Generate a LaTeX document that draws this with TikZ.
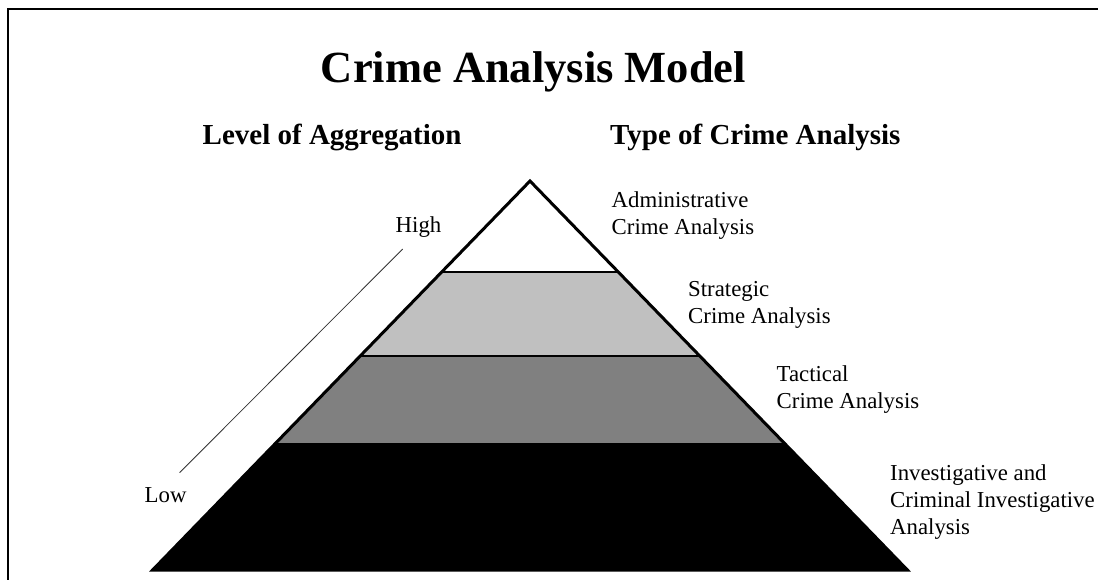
\documentclass[tikz,border=0pt]{standalone}
\usepackage{fontspec}
\setmainfont{Liberation Serif}
\usetikzlibrary{calc}
\definecolor{bandlight}{RGB}{192,192,192}
\definecolor{bandmid}{RGB}{128,128,128}
\tikzset{
  lbl/.style={anchor=base west, inner sep=0pt, align=left, font=\fontsize{22.8}{27}\selectfont},
  heading/.style={anchor=base west, inner sep=0pt, font=\fontsize{29}{34}\selectfont\bfseries},
  bandline/.style={line width=2pt},
}
\begin{document}
\begin{tikzpicture}[x=1pt,y=-1pt]
\useasboundingbox (0,0) rectangle (1098,580);
\fill[white] (-2,-2) rectangle (1100,582);
\clip (0,0) rectangle (1098,580);
% frame
\draw[line width=2pt] (8,582) -- (8,9.5) -- (1100,9.5);
% pyramid geometry
\coordinate (A) at (530,181);
\coordinate (BL) at (152.6,570);
\coordinate (BR) at (907.4,570);
\coordinate (L1) at ($(A)!0.234!(BL)$);
\coordinate (R1) at ($(A)!0.234!(BR)$);
\coordinate (L2) at ($(A)!0.449!(BL)$);
\coordinate (R2) at ($(A)!0.449!(BR)$);
\coordinate (L3) at ($(A)!0.676!(BL)$);
\coordinate (R3) at ($(A)!0.676!(BR)$);
\fill[white] (A) -- (L1) -- (R1) -- cycle;
\fill[bandlight] (L1) -- (R1) -- (R2) -- (L2) -- cycle;
\fill[bandmid] (L2) -- (R2) -- (R3) -- (L3) -- cycle;
\fill[black] (L3) -- (R3) -- (BR) -- (BL) -- cycle;
\draw[bandline] (L1) -- (R1);
\draw[bandline] (L2) -- (R2);
\draw[bandline] (L3) -- (R3);
\draw[line width=3pt, line join=miter] (A) -- (BL) -- (BR) -- cycle;
% aggregation scale line
\coordinate (HiEnd) at (402.7,249);
\coordinate (LoEnd) at (179.6,472.7);
\draw[line width=0.8pt, black!80] (HiEnd) -- (LoEnd);
% texts
\node[anchor=base, inner sep=0pt, font=\fontsize{44.5}{50}\selectfont\bfseries] (title) at (533.5,83) {Crime Analysis Model};
\node[heading] (lvl) at (202.5,145) {Level of Aggregation};
\node[heading] (type) at (610,145) {Type of Crime Analysis};
\node[lbl] (high) at (395.5,233) {High};
\node[lbl] (low) at (144.5,502) {Low};
\node[lbl] (adm) at (611.5,235) {Administrative\\Crime Analysis};
\node[lbl] (str) at (688,323) {Strategic\\Crime Analysis};
\node[lbl] (tac) at (776.5,408) {Tactical\\Crime Analysis};
\node[lbl] (inv) at (890,534) {Investigative and\\Criminal Investigative\\Analysis};
\end{tikzpicture}
\end{document}
